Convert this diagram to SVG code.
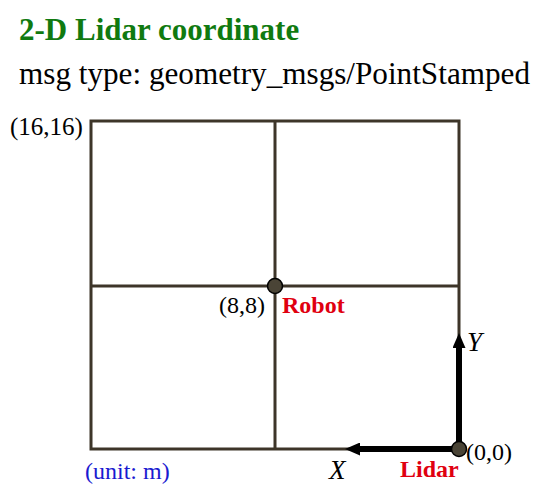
<svg xmlns="http://www.w3.org/2000/svg" width="558" height="487" viewBox="0 0 558 487">
<defs>
<style>
.t{font-family:"Liberation Serif","Times New Roman",Tinos,"DejaVu Serif",serif;fill:#000}
.grid{stroke:#3d3529;stroke-width:3;fill:none}
.ax{stroke:#000;stroke-width:6;fill:none}
.pt{fill:#4a4436;stroke:#000;stroke-width:1.5}
.red{fill:#e00010;font-weight:bold}
</style>
<marker id="ah" viewBox="0 0 15 13" refX="0" refY="6.5" markerWidth="15" markerHeight="13" orient="auto" markerUnits="userSpaceOnUse">
<path d="M0,0 L15,6.5 L0,13 z" fill="#000"/>
</marker>
</defs>
<rect width="558" height="487" fill="#fff"/>
<text class="t" x="19" y="40" font-size="31" font-weight="bold" style="fill:#107a10">2-D Lidar coordinate</text>
<text class="t" x="19" y="84" font-size="31" textLength="511" lengthAdjust="spacingAndGlyphs">msg type: geometry_msgs/PointStamped</text>
<g id="grid">
<rect class="grid" x="91" y="121" width="368" height="328"/>
<line class="grid" x1="275" y1="121" x2="275" y2="449"/>
<line class="grid" x1="91" y1="286" x2="459" y2="286"/>
</g>
<g id="connectors">
<line class="ax" x1="459" y1="449" x2="459" y2="348" marker-end="url(#ah)"/>
<line class="ax" x1="459" y1="449" x2="360" y2="449" marker-end="url(#ah)"/>
</g>
<g id="robot">
<circle class="pt" cx="275" cy="286" r="7.5"/>
<text class="t" x="265" y="313" font-size="24" text-anchor="end">(8,8)</text>
<text class="t red" x="282" y="313" font-size="24">Robot</text>
</g>
<g id="lidar">
<circle class="pt" cx="459" cy="449" r="7.5"/>
<text class="t" x="466" y="460" font-size="24">(0,0)</text>
<text class="t red" x="400" y="477" font-size="24">Lidar</text>
</g>
<g id="labels">
<text class="t" x="10" y="135" font-size="25">(16,16)</text>
<text class="t" x="467" y="351" font-size="27" font-style="italic">Y</text>
<text class="t" x="329" y="479" font-size="27" font-style="italic">X</text>
<text class="t" x="85" y="479" font-size="24" style="fill:#1a1ad0">(unit: m)</text>
</g>
</svg>
